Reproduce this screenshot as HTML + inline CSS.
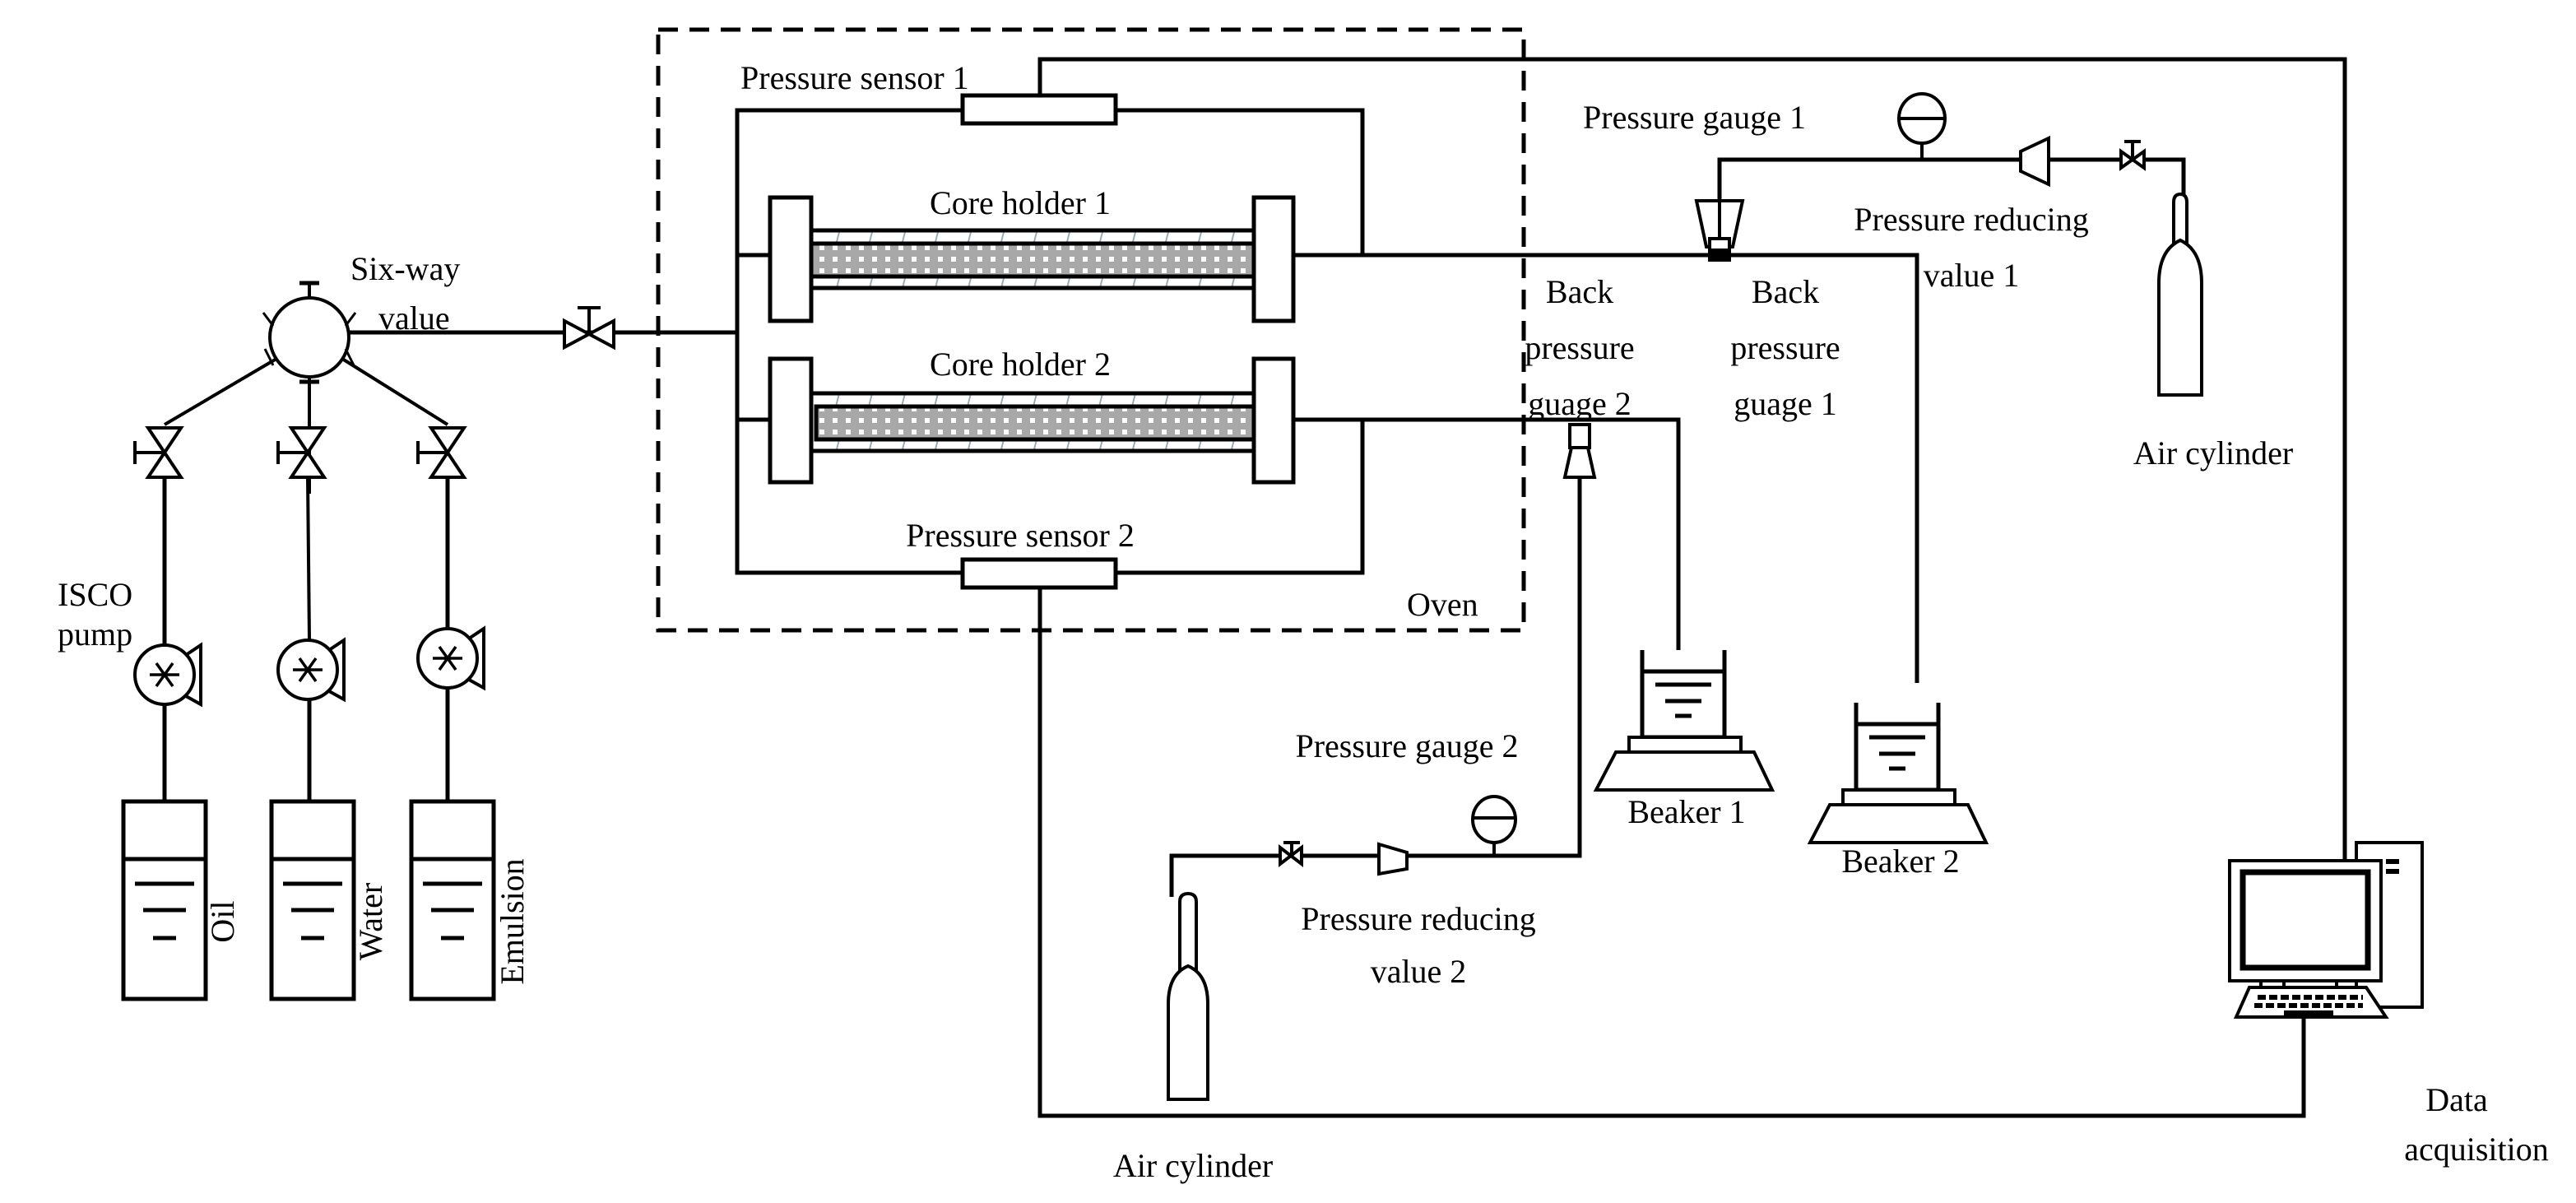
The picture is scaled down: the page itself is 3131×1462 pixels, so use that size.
<!DOCTYPE html>
<html><head><meta charset="utf-8"><style>html,body{margin:0;padding:0;background:#fff}svg{display:block}text{font-family:"Liberation Serif",serif;font-size:20px;fill:#000}</style></head>
<body>
<svg width="3131" height="1462" viewBox="0 0 1565.5 731" xmlns="http://www.w3.org/2000/svg">
<defs>
<pattern id="dots" width="8" height="7" patternUnits="userSpaceOnUse"><rect width="8" height="7" fill="#a8a8a8"/><rect x="2" y="2" width="3" height="3" fill="#fff"/></pattern>
<pattern id="hatch" width="20" height="14" patternUnits="userSpaceOnUse"><line x1="10" y1="1" x2="7" y2="13" stroke="#9ab" stroke-width="1"/></pattern>
</defs>
<g fill="none" stroke="#000" stroke-width="2.5">
<rect x="400" y="18" width="526" height="365" stroke-dasharray="12,7" stroke-width="2.5"/>
<polyline points="585,67 448,67 448,348 585,348"/>
<polyline points="678,67 828,67 828,155"/>
<polyline points="632,58 632,36 1425,36 1425,572"/>
<rect x="585" y="58" width="93" height="17" fill="#fff"/>
<rect x="585" y="340" width="93" height="17" fill="#fff"/>
<polyline points="678,348 828,348 828,255"/>
<polyline points="632,357 632,678 1400,678 1400,617"/>
<line x1="448" y1="155" x2="468" y2="155"/>
<line x1="448" y1="255" x2="468" y2="255"/>
<rect x="493" y="140" width="269" height="35" fill="url(#hatch)"/>
<rect x="493" y="148" width="269" height="20" fill="url(#dots)"/>
<rect x="468" y="120" width="25" height="75" fill="#fff"/>
<rect x="762" y="120" width="24" height="75" fill="#fff"/>
<rect x="493" y="239" width="269" height="35" fill="url(#hatch)"/>
<rect x="496" y="247" width="269" height="20" fill="url(#dots)"/>
<rect x="468" y="218" width="25" height="75" fill="#fff"/>
<rect x="762" y="218" width="24" height="75" fill="#fff"/>
<polyline points="786,155 1165,155 1165,415"/>
<polyline points="786,255 1020,255 1020,395"/>
<line x1="212" y1="202" x2="448" y2="202"/>
<circle cx="188" cy="205" r="24" fill="#fff" stroke-width="2"/>
<line x1="188" y1="181" x2="188" y2="172" stroke-width="2"/><line x1="182" y1="172" x2="194" y2="172" stroke-width="2.5"/>
<line x1="188" y1="229" x2="188" y2="300" stroke-width="2"/><line x1="182" y1="232" x2="194" y2="232"/>
<line x1="168" y1="218" x2="100" y2="258" stroke-width="2"/>
<line x1="208" y1="218" x2="272" y2="258" stroke-width="2"/>
<line x1="161" y1="212" x2="166" y2="222" stroke-width="1.5"/>
<line x1="210" y1="212" x2="215" y2="222" stroke-width="1.5"/>
<line x1="160" y1="190" x2="166" y2="198" stroke-width="1.5"/>
<line x1="210" y1="198" x2="216" y2="190" stroke-width="1.5"/>
</g>
<g fill="#fff" stroke="#000" stroke-width="2">
<polygon points="343,195 343,211 373,195 373,211"/><line x1="358" y1="203" x2="358" y2="187"/><line x1="351" y1="187" x2="365" y2="187"/>
<g id="v"><polygon points="90,260 110,260 90,290 110,290"/><line x1="100" y1="275" x2="82" y2="275"/><line x1="82" y1="268" x2="82" y2="282"/></g>
<use href="#v" x="87"/><use href="#v" x="172"/>
<line x1="100" y1="290" x2="100" y2="392" stroke-width="2.5"/>
<line x1="187" y1="290" x2="188" y2="389" stroke-width="2"/>
<line x1="272" y1="290" x2="272" y2="382" stroke-width="2.5"/>
<line x1="100" y1="428" x2="100" y2="487" stroke-width="2.5"/>
<line x1="188" y1="425" x2="188" y2="487" stroke-width="2.5"/>
<line x1="272" y1="418" x2="272" y2="487" stroke-width="2.5"/>
<g id="p"><circle cx="100" cy="410" r="18"/><polyline points="113,398 122,392 122,428 113,423" fill="none"/><path d="M91,410H109M95,403L105,417M105,403L95,417" stroke-width="1.8"/></g>
<use href="#p" x="87" y="-3"/><use href="#p" x="172" y="-10"/>
<g id="t" stroke-width="2.5"><rect x="75" y="487" width="50" height="120"/><line x1="75" y1="522" x2="125" y2="522"/><line x1="82" y1="537" x2="118" y2="537"/><line x1="87" y1="553" x2="113" y2="553"/><line x1="93" y1="570" x2="107" y2="570"/></g>
<use href="#t" x="90"/><use href="#t" x="175"/>
<polyline points="1045,150 1045,97 1228,97" fill="none" stroke-width="2.5"/>
<line x1="1168" y1="97" x2="1168" y2="84"/>
<ellipse cx="1168" cy="72" rx="14" ry="15"/><line x1="1154" y1="72" x2="1182" y2="72"/>
<polygon points="1031,122 1059,122 1053,150 1037,150"/><line x1="1045" y1="122" x2="1045" y2="150"/>
<rect x="1039" y="145" width="12" height="10"/><rect x="1039" y="152" width="12" height="6" fill="#000"/>
<polygon points="1228,92 1245,84 1245,112 1228,104"/>
<line x1="1245" y1="97" x2="1322" y2="97" stroke-width="2.5"/>
<polygon points="1289,92 1289,102 1303,92 1303,102"/><line x1="1296" y1="97" x2="1296" y2="86"/><line x1="1291" y1="86" x2="1301" y2="86"/>
<polyline points="1322,97 1327,97 1327,118" fill="none" stroke-width="2.5"/>
<path d="M1321,148 V123 Q1321,118 1325,118 Q1329,118 1329,123 V148"/>
<path d="M1312,240 V172 Q1312,152 1325,146 Q1338,152 1338,172 V240 Z"/>
<polyline points="960,262 960,520 712,520 712,545" fill="none" stroke-width="2.5"/>
<rect x="954" y="258" width="12" height="14"/>
<polygon points="951,290 969,290 965,272 955,272"/>
<line x1="908" y1="520" x2="908" y2="510"/>
<ellipse cx="908" cy="498" rx="13" ry="14"/><line x1="895" y1="497" x2="921" y2="497"/>
<polygon points="838,513 855,518 855,528 838,531"/>
<polygon points="778,515 778,525 791,515 791,525"/><line x1="785" y1="520" x2="785" y2="512"/><line x1="780" y1="512" x2="790" y2="512"/>
<path d="M717,590 V548 Q717,543 722,543 Q727,543 727,548 V590"/>
<path d="M710,668 V610 Q710,592 722,587 Q734,592 734,610 V668 Z"/>
<g id="b"><polyline points="998,395 998,448 1048,448 1048,395" fill="none" stroke-width="2.5"/><line x1="998" y1="408" x2="1048" y2="408" stroke-width="2.5"/>
<line x1="1006" y1="416" x2="1040" y2="416" stroke-width="2.5"/><line x1="1012" y1="426" x2="1034" y2="426" stroke-width="2.5"/><line x1="1018" y1="435" x2="1028" y2="435" stroke-width="2.5"/>
<rect x="990" y="448" width="68" height="9"/><polygon points="982,457 1066,457 1077,480 970,480"/></g>
<use href="#b" x="130" y="32"/>
<rect x="1432" y="512" width="40" height="100"/>
<rect x="1450" y="522" width="8" height="3" fill="#000" stroke="none"/><rect x="1450" y="528" width="8" height="3" fill="#000" stroke="none"/>
<rect x="1355" y="523" width="92" height="73"/>
<rect x="1363" y="530" width="76" height="58" stroke-width="3.5"/>
<line x1="1374" y1="596" x2="1374" y2="606"/><line x1="1388" y1="596" x2="1388" y2="606"/><line x1="1420" y1="596" x2="1420" y2="606"/>
<polygon points="1372,604 1443,604 1455,622 1364,622" transform="translate(-5,-4)"/>
<path d="M1372,606h64M1370,611h66" stroke-dasharray="5,2" stroke-width="3"/>
<rect x="1388" y="614" width="30" height="3" fill="#000" stroke="none"/>
</g>
<text x="450" y="54">Pressure sensor 1</text>
<text x="620" y="130" text-anchor="middle">Core holder 1</text>
<text x="620" y="228" text-anchor="middle">Core holder 2</text>
<text x="620" y="332" text-anchor="middle">Pressure sensor 2</text>
<text x="855" y="374">Oven</text>
<text x="213" y="170">Six-way</text>
<text x="230" y="200">value</text>
<text x="35" y="368">ISCO</text>
<text x="35" y="392">pump</text>
<text transform="translate(142,560) rotate(-90)" text-anchor="middle">Oil</text>
<text transform="translate(232,560) rotate(-90)" text-anchor="middle">Water</text>
<text transform="translate(318,560) rotate(-90)" text-anchor="middle">Emulsion</text>
<text x="962" y="78">Pressure gauge 1</text>
<text x="1198" y="140" text-anchor="middle">Pressure reducing</text>
<text x="1198" y="174" text-anchor="middle">value 1</text>
<text x="1345" y="282" text-anchor="middle">Air cylinder</text>
<text x="960" y="184" text-anchor="middle">Back</text>
<text x="960" y="218" text-anchor="middle">pressure</text>
<text x="960" y="252" text-anchor="middle">guage 2</text>
<text x="1085" y="184" text-anchor="middle">Back</text>
<text x="1085" y="218" text-anchor="middle">pressure</text>
<text x="1085" y="252" text-anchor="middle">guage 1</text>
<text x="855" y="460" text-anchor="middle">Pressure gauge 2</text>
<text x="862" y="565" text-anchor="middle">Pressure reducing</text>
<text x="862" y="597" text-anchor="middle">value 2</text>
<text x="725" y="715" text-anchor="middle">Air cylinder</text>
<text x="1025" y="500" text-anchor="middle">Beaker 1</text>
<text x="1155" y="530" text-anchor="middle">Beaker 2</text>
<text x="1493" y="675" text-anchor="middle">Data</text>
<text x="1505" y="705" text-anchor="middle">acquisition</text>
</svg>
</body></html>
